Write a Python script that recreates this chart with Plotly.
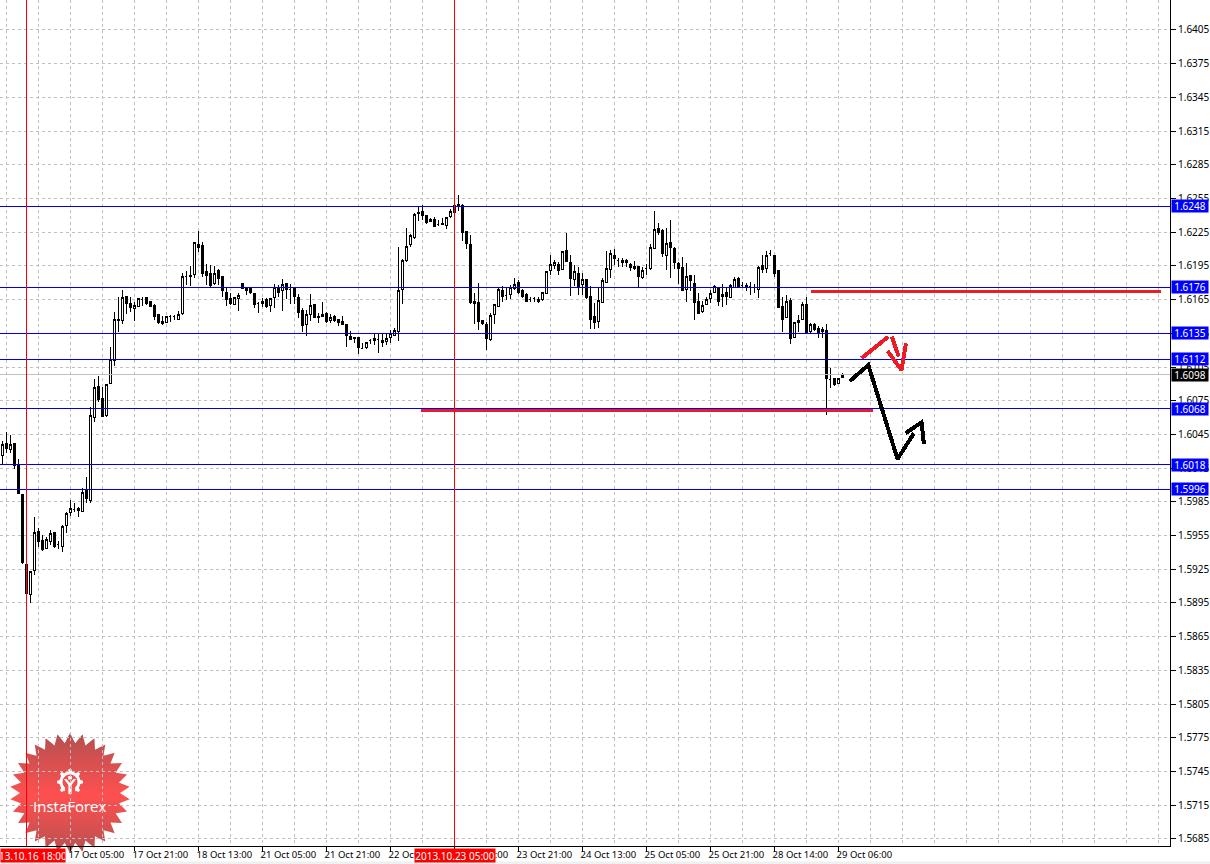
import numpy as np
import plotly.graph_objects as go

opens = [1.60264,1.60371,1.60318,1.60371,1.60172,1.59917,1.59294,1.59027,1.59241,1.59588,
1.59508,1.59434,1.59496,1.59579,1.59472,1.59451,1.59638,1.59757,1.59784,1.59793,
1.59763,1.59947,1.59861,1.60602,1.60878,1.60772,1.60617,1.60902,1.61110,1.61475,
1.61463,1.61674,1.61611,1.61570,1.61588,1.61653,1.61665,1.61629,1.61599,1.61513,
1.61457,1.61445,1.61499,1.61501,1.61475,1.61522,1.61852,1.61866,1.61875,1.62142,
1.62128,1.61902,1.61884,1.61789,1.61905,1.61852,1.61715,1.61662,1.61605,1.61662,
1.61789,1.61745,1.61745,1.61706,1.61614,1.61611,1.61653,1.61596,1.61665,1.61760,
1.61730,1.61795,1.61736,1.61745,1.61671,1.61549,1.61427,1.61516,1.61608,1.61504,
1.61501,1.61528,1.61463,1.61504,1.61475,1.61457,1.61424,1.61318,1.61315,1.61309,
1.61217,1.61223,1.61282,1.61288,1.61294,1.61288,1.61276,1.61315,1.61329,1.61365,
1.61742,1.61997,1.62139,1.62199,1.62427,1.62436,1.62395,1.62347,1.62359,1.62320,
1.62329,1.62311,1.62392,1.62427,1.62498,1.62490,1.62258,1.62142,1.61635,1.61626,
1.61463,1.61430,1.61294,1.61516,1.61588,1.61733,1.61685,1.61694,1.61745,1.61804,
1.61733,1.61691,1.61653,1.61659,1.61653,1.61647,1.61703,1.61908,1.61952,1.61964,
1.61920,1.62089,1.61982,1.61831,1.61884,1.61783,1.61825,1.61680,1.61496,1.61454,
1.61626,1.61801,1.61920,1.62047,1.62000,1.62000,1.61994,1.61964,1.61926,1.61941,
1.61849,1.61923,1.61923,1.62104,1.62285,1.62267,1.62041,1.62160,1.62107,1.61967,
1.61938,1.61739,1.61866,1.61795,1.61635,1.61540,1.61605,1.61656,1.61709,1.61760,
1.61674,1.61709,1.61665,1.61760,1.61834,1.61780,1.61777,1.61766,1.61754,1.61739,
1.61950,1.61926,1.62056,1.62047,1.61905,1.61593,1.61487,1.61641,1.61312,1.61445,
1.61469,1.61608,1.61365,1.61424,1.61392,1.61365,1.61377,1.60935,1.60947,1.60899,
1.60959]

highs = [1.60392,1.60469,1.60445,1.60371,1.60229,1.59917,1.59309,1.59232,1.59715,1.59614,
1.59555,1.59534,1.59600,1.59585,1.59502,1.59644,1.59763,1.59867,1.59843,1.59801,
1.59971,1.60068,1.60697,1.60941,1.60970,1.60870,1.60896,1.61226,1.61540,1.61677,
1.61736,1.61677,1.61671,1.61632,1.61662,1.61671,1.61674,1.61635,1.61608,1.61522,
1.61504,1.61504,1.61510,1.61516,1.61549,1.61884,1.61905,1.61950,1.62166,1.62261,
1.62163,1.61967,1.61958,1.61950,1.61920,1.61852,1.61757,1.61706,1.61671,1.61712,
1.61801,1.61766,1.61760,1.61706,1.61629,1.61665,1.61665,1.61668,1.61789,1.61780,
1.61834,1.61795,1.61789,1.61760,1.61700,1.61573,1.61558,1.61700,1.61608,1.61528,
1.61629,1.61543,1.61519,1.61513,1.61481,1.61501,1.61433,1.61371,1.61320,1.61315,
1.61261,1.61276,1.61297,1.61350,1.61344,1.61344,1.61344,1.61380,1.61395,1.62116,
1.62012,1.62285,1.62234,1.62424,1.62478,1.62492,1.62403,1.62380,1.62389,1.62359,
1.62374,1.62389,1.62454,1.62507,1.62581,1.62501,1.62264,1.62225,1.61706,1.61795,
1.61469,1.61454,1.61528,1.61611,1.61760,1.61771,1.61760,1.61780,1.61840,1.61825,
1.61742,1.61706,1.61677,1.61677,1.61677,1.61721,1.61902,1.62047,1.62003,1.61988,
1.62083,1.62246,1.62047,1.61958,1.61944,1.61884,1.61831,1.61771,1.61617,1.61766,
1.61840,1.62083,1.62092,1.62098,1.62024,1.62024,1.62009,1.61973,1.61991,1.61950,
1.61944,1.61967,1.62142,1.62439,1.62335,1.62276,1.62288,1.62359,1.62116,1.61988,
1.62027,1.61973,1.61866,1.61869,1.61706,1.61641,1.61671,1.61736,1.61780,1.61760,
1.61786,1.61757,1.61786,1.61849,1.61849,1.61810,1.61801,1.61810,1.61786,1.61950,
1.62047,1.62086,1.62092,1.62047,1.61914,1.61677,1.61691,1.61662,1.61454,1.61513,
1.61632,1.61671,1.61439,1.61439,1.61418,1.61410,1.61430,1.61039,1.60953,1.60956,
1.60994]

lows = [1.60178,1.60288,1.60288,1.60140,1.59923,1.59294,1.58947,1.58947,1.59202,1.59451,
1.59413,1.59428,1.59466,1.59436,1.59428,1.59407,1.59576,1.59724,1.59763,1.59718,
1.59757,1.59843,1.59837,1.60558,1.60742,1.60608,1.60608,1.60896,1.61062,1.61365,
1.61433,1.61522,1.61540,1.61460,1.61588,1.61596,1.61599,1.61588,1.61469,1.61433,
1.61427,1.61439,1.61454,1.61469,1.61475,1.61513,1.61780,1.61771,1.61846,1.62077,
1.61855,1.61780,1.61760,1.61780,1.61780,1.61677,1.61596,1.61602,1.61605,1.61552,
1.61745,1.61691,1.61697,1.61579,1.61534,1.61588,1.61576,1.61543,1.61576,1.61671,
1.61552,1.61656,1.61614,1.61611,1.61490,1.61359,1.61329,1.61463,1.61490,1.61445,
1.61499,1.61445,1.61445,1.61451,1.61415,1.61427,1.61232,1.61291,1.61261,1.61166,
1.61214,1.61214,1.61255,1.61246,1.61178,1.61232,1.61246,1.61261,1.61326,1.61282,
1.61614,1.61985,1.62122,1.62193,1.62353,1.62359,1.62323,1.62338,1.62300,1.62306,
1.62314,1.62276,1.62380,1.62418,1.62442,1.62175,1.62101,1.61611,1.61436,1.61380,
1.61424,1.61202,1.61285,1.61433,1.61588,1.61632,1.61647,1.61653,1.61736,1.61700,
1.61662,1.61626,1.61629,1.61632,1.61617,1.61638,1.61697,1.61869,1.61920,1.61866,
1.61914,1.61988,1.61682,1.61771,1.61691,1.61691,1.61653,1.61386,1.61386,1.61395,
1.61623,1.61795,1.61840,1.61958,1.61944,1.61944,1.61944,1.61905,1.61914,1.61760,
1.61837,1.61869,1.61914,1.62098,1.62225,1.62033,1.61914,1.61846,1.61920,1.61786,
1.61730,1.61632,1.61730,1.61469,1.61522,1.61531,1.61605,1.61617,1.61706,1.61593,
1.61588,1.61602,1.61662,1.61751,1.61751,1.61751,1.61727,1.61691,1.61706,1.61662,
1.61884,1.61884,1.62041,1.61852,1.61573,1.61359,1.61484,1.61255,1.61306,1.61365,
1.61469,1.61350,1.61356,1.61371,1.61312,1.61306,1.60623,1.60861,1.60884,1.60896,
1.60956]

closes = [1.60362,1.60324,1.60362,1.60169,1.59923,1.59309,1.59033,1.59232,1.59579,1.59496,
1.59422,1.59511,1.59570,1.59451,1.59472,1.59632,1.59748,1.59793,1.59784,1.59772,
1.59935,1.59879,1.60614,1.60870,1.60757,1.60608,1.60896,1.61119,1.61475,1.61463,
1.61665,1.61611,1.61576,1.61599,1.61662,1.61653,1.61614,1.61588,1.61499,1.61442,
1.61436,1.61496,1.61499,1.61501,1.61519,1.61858,1.61852,1.61855,1.62154,1.62110,
1.61878,1.61869,1.61780,1.61884,1.61837,1.61730,1.61650,1.61611,1.61671,1.61685,
1.61751,1.61733,1.61709,1.61605,1.61614,1.61635,1.61588,1.61656,1.61754,1.61715,
1.61786,1.61736,1.61736,1.61677,1.61534,1.61418,1.61513,1.61599,1.61490,1.61493,
1.61519,1.61454,1.61493,1.61460,1.61445,1.61427,1.61332,1.61294,1.61300,1.61223,
1.61217,1.61270,1.61282,1.61306,1.61294,1.61267,1.61306,1.61347,1.61377,1.61733,
1.61994,1.62125,1.62222,1.62409,1.62418,1.62398,1.62332,1.62365,1.62300,1.62320,
1.62317,1.62383,1.62436,1.62490,1.62481,1.62246,1.62148,1.61620,1.61614,1.61454,
1.61436,1.61300,1.61507,1.61602,1.61742,1.61677,1.61685,1.61760,1.61786,1.61709,
1.61677,1.61632,1.61653,1.61659,1.61629,1.61715,1.61902,1.61964,1.61982,1.61905,
1.62080,1.61988,1.61840,1.61902,1.61771,1.61831,1.61668,1.61469,1.61445,1.61638,
1.61822,1.61929,1.62062,1.62012,1.62000,1.61982,1.61979,1.61935,1.61947,1.61852,
1.61911,1.61923,1.62116,1.62276,1.62249,1.62059,1.62151,1.62113,1.61979,1.61923,
1.61730,1.61858,1.61816,1.61623,1.61522,1.61599,1.61653,1.61706,1.61769,1.61635,
1.61697,1.61682,1.61777,1.61825,1.61766,1.61780,1.61760,1.61766,1.61754,1.61938,
1.61914,1.62044,1.62056,1.61881,1.61579,1.61469,1.61629,1.61306,1.61442,1.61463,
1.61602,1.61350,1.61430,1.61380,1.61353,1.61386,1.60947,1.60935,1.60893,1.60950,
1.60976]

candle_index = list(range(len(opens)))

price_ticks = [1.6405,1.6375,1.6345,1.6315,1.6285,1.6255,1.6225,1.6195,1.6165,1.6135,1.6105,1.6075,
               1.6045,1.6015,1.5985,1.5955,1.5925,1.5895,1.5865,1.5835,1.5805,1.5775,1.5745,1.5715,1.5685]
time_tick_index = [17,33,49,65,81,97,113,129,145,161,177,193,209]
time_tick_labels = ["17 Oct 05:00","17 Oct 21:00","18 Oct 13:00","21 Oct 05:00","21 Oct 21:00","22 Oct 13:00",
                    "23 Oct 05:00","23 Oct 21:00","24 Oct 13:00","25 Oct 05:00","25 Oct 21:00","28 Oct 14:00","29 Oct 06:00"]
blue_levels = [1.6248,1.6176,1.6135,1.6112,1.6068,1.6018,1.5996]
bid_price = 1.6098
marker_index = [6,113]
marker_labels = ["13.10.16 18:00","2013.10.23 05:00"]
red_level_segments = [([104.67,217.7],[1.60665,1.60665]),([202.2,289.7],[1.61725,1.61725])]
black_strokes = [([211.9,216.5,223.8,227.9],[1.60925,1.61068,1.60231,1.60460]),
                 ([225.8,229.8,230.4],[1.60460,1.60558,1.60362])]
red_strokes = [([214.8,221.5],[1.61128,1.61320]),
               ([222.4,224.1],[1.61320,1.61142]),
               ([221.3,224.8,225.9],[1.61192,1.61023,1.61261])]

W, H = 1210, 864
PW, PH = 1170, 846
FONT = "Noto Sans"
px_x = lambda v: v / PW
px_y = lambda v: 1 - v / PH

fig = go.Figure()

# ---------- logo (decorative, pixel placed) ----------
def star(cx, cy, r_out, r_in, n):
    a = np.linspace(0, 2*np.pi, 2*n, endpoint=False) - np.pi/2
    r = np.where(np.arange(2*n) % 2 == 0, r_out, r_in)
    return list(zip(cx + r*np.cos(a), cy + r*np.sin(a)))

def clip_band(poly, y0, y1):
    def clip(pts, keep, cut):
        out = []
        for i in range(len(pts)):
            p, q = pts[i], pts[(i+1) % len(pts)]
            kp, kq = keep(p[1]), keep(q[1])
            if kp: out.append(p)
            if kp != kq:
                t = (cut - p[1]) / (q[1] - p[1])
                out.append((p[0] + t*(q[0]-p[0]), cut))
        return out
    pts = clip(poly, lambda y: y >= y0, y0)
    if pts: pts = clip(pts, lambda y: y <= y1, y1)
    return pts

def path_of(pts):
    return "M" + "L".join(f"{px_x(x):.5f},{px_y(y):.5f}" for x, y in pts) + "Z"

def logo_shape(pts, color):
    return dict(type="path", xref="paper", yref="paper", path=path_of(pts),
                fillcolor=color, line_width=0, layer="below")

shapes = []
logo = star(70, 793, 60, 50, 30)
for y0 in range(732, 854, 2):
    pts = clip_band(logo, y0, y0 + 2)
    if len(pts) < 3:
        continue
    t = min(1, abs(y0 + 1 - 795) / 58)
    shapes.append(logo_shape(pts, f"rgb({int(255 - 70*t)},80,80)"))

# gear icon
gx, gy = 70, 782
teeth = []
for k in range(64):
    a = 2*np.pi*k/64 - np.pi/2
    r = 13 if (k % 8) in (0, 1, 7) else 10.5
    teeth.append((gx + r*np.cos(a), gy + r*np.sin(a)))
theta = np.linspace(0, 2*np.pi, 48, endpoint=False)
shapes.append(logo_shape(teeth, "#ffffff"))
shapes.append(logo_shape([(gx + 7.5*np.cos(a), gy + 7.5*np.sin(a)) for a in theta], "#f05050"))
shapes.append(logo_shape([(gx-5, gy+5), (gx+5, gy+5), (gx+5, gy+15), (gx-5, gy+15)], "#fb5050"))
shapes.append(logo_shape([(gx-1.6, gy+2), (gx+1.6, gy+2), (gx+1.6, gy+12), (gx-1.6, gy+12)], "#ffffff"))
shapes.append(logo_shape([(gx-6, gy-3), (gx-3.5, gy-3), (gx, gy+1), (gx+3.5, gy-3), (gx+6, gy-3), (gx+1.6, gy+3), (gx-1.6, gy+3)], "#ffffff"))
shapes.append(logo_shape([(gx-1.8, gy-6), (gx+1.8, gy-6), (gx+1.8, gy-2.5), (gx-1.8, gy-2.5)], "#ffffff"))

# bottom window strip
shapes.append(dict(type="rect", xref="paper", yref="paper", x0=0, x1=W/PW, y0=px_y(864), y1=px_y(861.5),
                   fillcolor="#f0f0f0", line_width=0, layer="below"))

# ---------- level and marker lines ----------
x_lo, x_hi = -0.58, 291.92
for lvl in blue_levels:
    fig.add_trace(go.Scatter(x=[x_lo, x_hi], y=[lvl, lvl], mode="lines", line=dict(color="#0000e6", width=1), hoverinfo="skip"))
fig.add_trace(go.Scatter(x=[x_lo, x_hi], y=[bid_price, bid_price], mode="lines", line=dict(color="#c0c0c0", width=1), hoverinfo="skip"))

# ---------- candles ----------
fig.add_trace(go.Candlestick(
    x=candle_index, open=opens, high=highs, low=lows, close=closes,
    increasing=dict(line=dict(color="#000000", width=1), fillcolor="#ffffff"),
    decreasing=dict(line=dict(color="#000000", width=1), fillcolor="#000000"),
    whiskerwidth=0, hoverinfo="skip"))

for xs, ys in red_level_segments:
    fig.add_trace(go.Scatter(x=xs, y=ys, mode="lines", line=dict(color="#ed1c24", width=3), hoverinfo="skip"))
for xs, ys in black_strokes:
    fig.add_trace(go.Scatter(x=xs, y=ys, mode="lines", line=dict(color="#000000", width=4), hoverinfo="skip"))
for xs, ys in red_strokes:
    fig.add_trace(go.Scatter(x=xs, y=ys, mode="lines", line=dict(color="#ed1c24", width=4), hoverinfo="skip"))
for m in marker_index:
    fig.add_trace(go.Scatter(x=[m, m], y=[1.56786, 1.64317], mode="lines", line=dict(color="#ff0000", width=1), hoverinfo="skip"))

# ---------- annotations ----------
ann = []
for lvl in blue_levels:
    ann.append(dict(xref="paper", yref="y", x=1171/PW, y=lvl, xanchor="left", yanchor="middle", text=f"{lvl:.4f}",
                    showarrow=False, bgcolor="#0000ff", width=36, height=12, borderpad=0, align="center",
                    font=dict(family=FONT, size=10, color="#ffffff")))
ann.append(dict(xref="paper", yref="y", x=1171/PW, y=bid_price, xanchor="left", yanchor="middle", text=f"{bid_price:.4f}",
                showarrow=False, bgcolor="#000000", width=36, height=12, borderpad=0, align="center",
                font=dict(family=FONT, size=10, color="#ffffff")))
ann.append(dict(xref="paper", yref="paper", x=0, y=px_y(848), xanchor="left", yanchor="top", text=marker_labels[0],
                showarrow=False, bgcolor="#ff0000", width=64, height=13, borderpad=0, align="center",
                font=dict(family=FONT, size=10, color="#ffffff")))
ann.append(dict(xref="paper", yref="paper", x=px_x(414), y=px_y(848), xanchor="left", yanchor="top", text=marker_labels[1],
                showarrow=False, bgcolor="#ff0000", width=80, height=13, borderpad=0, align="center",
                font=dict(family=FONT, size=10, color="#ffffff")))
ann.append(dict(xref="paper", yref="paper", x=px_x(70), y=px_y(806), xanchor="center", yanchor="middle", text="InstaForex",
                showarrow=False, font=dict(family="Open Sans", size=15, color="#ffffff")))

fig.update_layout(
    width=W, height=H, margin=dict(l=0, r=W-PW, t=0, b=H-PH, pad=0), autosize=False,
    paper_bgcolor="#ffffff", plot_bgcolor="rgba(0,0,0,0)", showlegend=False,
    font=dict(family=FONT, size=10, color="#000000"), shapes=shapes, annotations=ann,
    boxgap=0.25,
    xaxis=dict(range=[x_lo, x_hi], rangeslider=dict(visible=False), automargin=False, tickmode="array", tickvals=time_tick_index,
               ticktext=time_tick_labels, ticks="outside", ticklen=4, tickcolor="#000000", ticklabelshift=26,
               ticklabelstandoff=-4, showline=True, linecolor="#000000", linewidth=1, zeroline=False,
               showgrid=True, gridcolor="#c0c0c0", griddash="3px,3px", gridwidth=1,
               minor=dict(tick0=1, dtick=8, showgrid=True, gridcolor="#c0c0c0", griddash="3px,3px", ticks="", gridwidth=1),
               tickfont=dict(family=FONT, size=9.5, color="#000000")),
    yaxis=dict(range=[1.56786, 1.64317], side="right", automargin=False, tickmode="array", tickvals=price_ticks,
               ticktext=[f"{p:.4f}" for p in price_ticks], ticks="outside", ticklen=5, tickcolor="#000000",
               showline=True, linecolor="#000000", linewidth=1, zeroline=False,
               showgrid=True, gridcolor="#c0c0c0", griddash="3px,3px", gridwidth=1,
               tickfont=dict(family=FONT, size=10, color="#000000")),
)

crisp = ("document.body.style.margin='0';document.body.style.overflow='hidden';"
         "var s=document.createElement('style');"
         "s.textContent='.scatterlayer .js-line,.boxlayer path{shape-rendering:crispEdges !important}';"
         "document.head.appendChild(s);")
fig.write_html("out.html", post_script=crisp, config={"displayModeBar": False})
